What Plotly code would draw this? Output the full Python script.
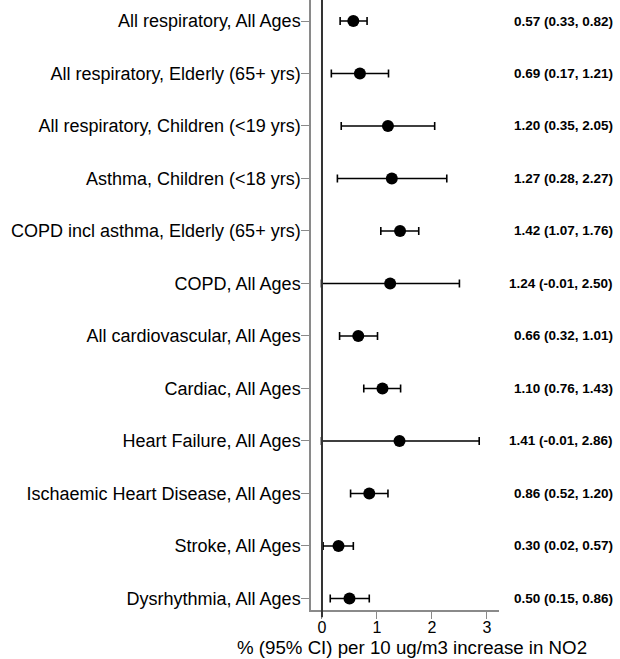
import plotly.graph_objects as go

outcomes = [
    "All respiratory, All Ages",
    "All respiratory, Elderly (65+ yrs)",
    "All respiratory, Children (<19 yrs)",
    "Asthma, Children (<18 yrs)",
    "COPD incl asthma, Elderly (65+ yrs)",
    "COPD, All Ages",
    "All cardiovascular, All Ages",
    "Cardiac, All Ages",
    "Heart Failure, All Ages",
    "Ischaemic Heart Disease, All Ages",
    "Stroke, All Ages",
    "Dysrhythmia, All Ages",
]
estimate = [0.57, 0.69, 1.20, 1.27, 1.42, 1.24, 0.66, 1.10, 1.41, 0.86, 0.30, 0.50]
lower = [0.33, 0.17, 0.35, 0.28, 1.07, -0.01, 0.32, 0.76, -0.01, 0.52, 0.02, 0.15]
upper = [0.82, 1.21, 2.05, 2.27, 1.76, 2.50, 1.01, 1.43, 2.86, 1.20, 0.57, 0.86]
x_ticks = [0, 1, 2, 3]
x_title = "% (95% CI) per 10 ug/m3 increase in NO2"

pos = list(range(len(outcomes)))
labels = [f"{e:.2f} ({l:.2f}, {u:.2f})" for e, l, u in zip(estimate, lower, upper)]

fig = go.Figure()
fig.add_trace(go.Scatter(
    x=estimate, y=pos, mode="markers",
    marker=dict(color="black", size=12, symbol="circle"),
    error_x=dict(type="data", symmetric=False,
                 array=[u - e for u, e in zip(upper, estimate)],
                 arrayminus=[e - l for e, l in zip(estimate, lower)],
                 color="black", thickness=1.6, width=4),
    showlegend=False, hoverinfo="skip",
))

fig.add_shape(type="line", xref="x", yref="paper", x0=0, x1=0, y0=-0.012, y1=1,
              line=dict(color="#333333", width=2))

for p, t in zip(pos, labels):
    fig.add_annotation(x=1.615, xref="paper", y=p, yref="y", text=t, showarrow=False,
                       xanchor="right", yanchor="middle",
                       font=dict(family="Liberation Sans, Arial", size=13.5, color="black",
                                 weight="bold"))

fig.add_annotation(x=0.537, xref="paper", y=-0.0607, yref="paper", text=x_title,
                   showarrow=False, xanchor="center", yanchor="middle",
                   font=dict(family="Liberation Sans, Arial", size=18.7, color="black"))

fig.update_layout(
    width=620, height=659,
    margin=dict(l=311, r=121, t=0, b=49),
    paper_bgcolor="white", plot_bgcolor="white",
    font=dict(family="Liberation Sans, Arial", size=18, color="black"),
    xaxis=dict(range=[-0.2, 3.22], tickvals=x_ticks, showgrid=False, zeroline=False,
               showline=True, linecolor="#8a8a8a", linewidth=1.5,
               ticks="outside", ticklen=7, tickcolor="#8a8a8a",
               ticklabelstandoff=-5,
               tickfont=dict(size=16)),
    yaxis=dict(range=[11.22, -0.4], tickvals=pos, ticktext=outcomes, showgrid=False,
               zeroline=False, showline=True, linecolor="#8a8a8a", linewidth=1.5,
               ticks="outside", ticklen=8, tickcolor="#8a8a8a",
               ticklabelstandoff=-3,
               tickfont=dict(size=18)),
)

fig.write_html("out.html", config={"displayModeBar": False},
               post_script="document.body.style.margin='0';")
